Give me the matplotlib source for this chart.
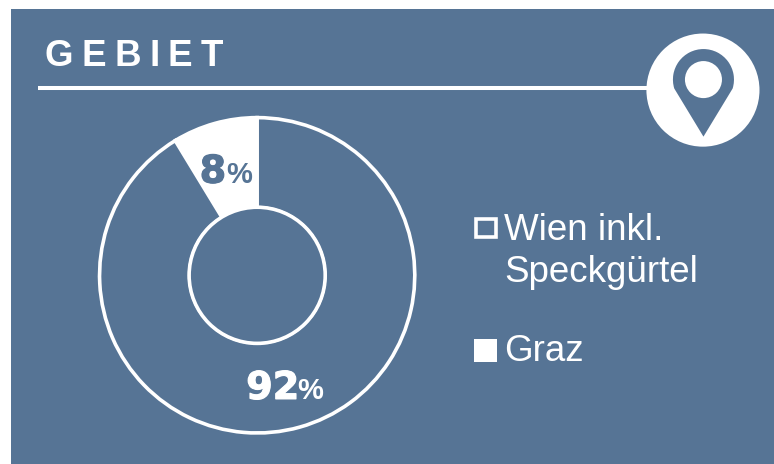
import matplotlib
matplotlib.use("Agg")
import matplotlib.pyplot as plt
import matplotlib.patheffects as pe
from matplotlib.patches import Rectangle, Circle, PathPatch
from matplotlib.path import Path
import numpy as np

W, H = 774, 464
BLUE = "#567495"
plt.rcParams["font.family"] = ["Liberation Sans", "DejaVu Sans"]

categories = ["Graz", "Wien inkl.\nSpeckgürtel"]
values = [8.7, 91.3]              # wedge shares as drawn, the labels round them
pct_labels = ["8", "92"]
title = "GEBIET"

def Y(py):
    # picture pixels count from the top, the axes from the bottom
    return H - py

# the half pixel keeps savefig from rounding the height down to 463
fig = plt.figure(figsize=((W + 0.5) / 100, (H + 0.5) / 100), dpi=100, facecolor="white")
ax = fig.add_axes([0, 0, 1, 1])
ax.add_patch(Rectangle((11, -5), W, Y(9) + 5, fc=BLUE, ec="none", zorder=0))

# donut
ax.pie(values, colors=["white", BLUE], startangle=90, counterclock=True,
       center=(257, Y(275.5)), radius=157.5, frame=True,
       wedgeprops=dict(width=90, ec="white", lw=2.6))
ax.add_patch(Circle((257, Y(275.5)), 68, fc=BLUE, ec="white", lw=2.6, zorder=3))
ax.set_aspect("auto")
ax.set_xlim(0, W); ax.set_ylim(0, H)
ax.axis("off")

# percent labels, thickened to get near the heavy face of the original
def pct(x_num, x_sign, base, label, col):
    ax.text(x_num, Y(base), label, color=col, fontsize=27.5, fontweight="bold",
            family="DejaVu Sans", va="baseline", ha="left", zorder=5,
            path_effects=[pe.withStroke(linewidth=0.8, foreground=col)])
    ax.text(x_sign, Y(base - 0.5), "%", color=col, fontsize=21, fontweight="bold",
            va="baseline", ha="left", zorder=5)

pct(199.5, 226, 183, pct_labels[0], BLUE)
pct(246, 297, 399, pct_labels[1], "white")

# header
x = 44
r = fig.canvas.get_renderer()
for ch in title:
    t = ax.text(x, Y(65.5), ch, color="white", fontsize=26.5, fontweight="bold",
                va="baseline", ha="left")
    x += t.get_window_extent(r).width + 8.5
ax.plot([38, 650], [Y(88.5), Y(88.5)], color="white", lw=2.9, solid_capstyle="butt")

# location badge
ax.add_patch(Circle((702.5, Y(90.5)), 56.5, fc="white", ec="none", zorder=4))
arc = Path.arc(-17, 197)
verts = arc.vertices * 30.5 + [703, Y(80)]
verts = np.vstack([verts, [[703, Y(137)], [703, Y(137)]]])
codes = list(arc.codes) + [Path.LINETO, Path.CLOSEPOLY]
ax.add_patch(PathPatch(Path(verts, codes), fc=BLUE, ec="none", zorder=5))
ax.add_patch(Circle((703, Y(80)), 18.5, fc="white", ec="none", zorder=6))

# legend
ax.add_patch(Rectangle((475.5, Y(237.5)), 20, 18, fc=BLUE, ec="white", lw=2.6, zorder=4))
ax.add_patch(Rectangle((474, Y(362)), 23, 23, fc="white", ec="none", zorder=4))
line1, line2 = categories[1].split("\n")
ax.text(503.5, Y(239.5), line1, color="white", fontsize=26.5, va="baseline")
ax.text(503.5, Y(281.7), line2, color="white", fontsize=26.5, va="baseline")
ax.text(503.5, Y(361), categories[0], color="white", fontsize=26.5, va="baseline")

fig.savefig("out.png", dpi=100, facecolor="white")
